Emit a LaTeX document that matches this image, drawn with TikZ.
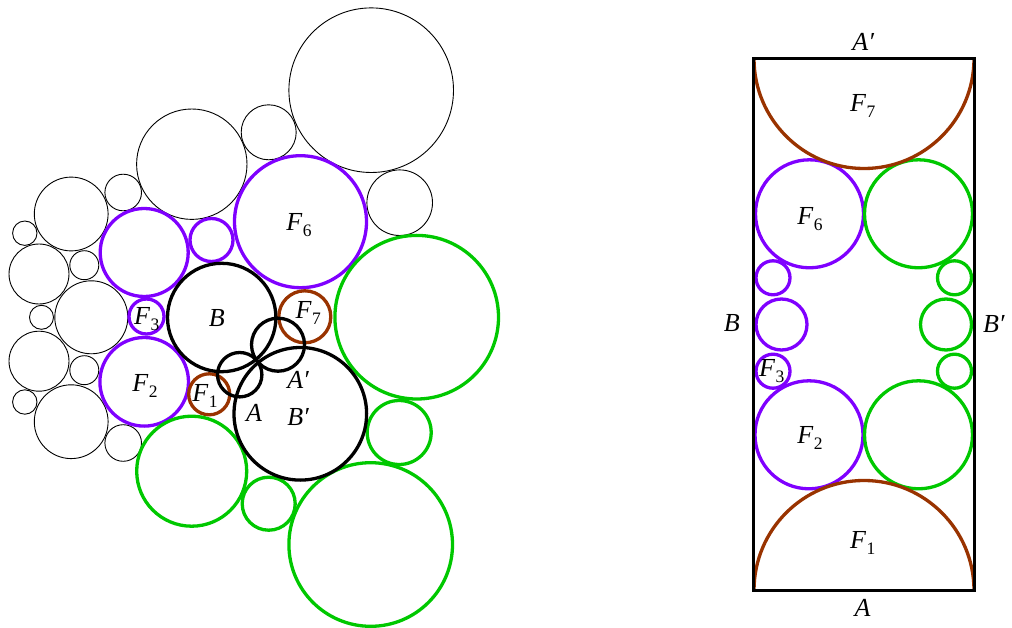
\documentclass[tikz,border=0pt]{standalone}
\usepackage{fontspec}
\setmainfont{Liberation Serif}
\definecolor{vio}{RGB}{127,0,255}
\definecolor{grn}{RGB}{0,200,0}
\definecolor{brn}{RGB}{153,51,0}
\newcommand{\lblF}[1]{\textit{F}\kern0.3pt\raisebox{-6pt}{\fontsize{17.5}{18}\selectfont #1}}
\begin{document}
\begin{tikzpicture}[x=1pt,y=-1pt,
  tcirc/.style={draw=black,line width=0.9pt},
  kcirc/.style={draw=black,line width=3.3pt},
  vcirc/.style={draw=vio,line width=3.3pt},
  gcirc/.style={draw=grn,line width=3.3pt},
  bcirc/.style={draw=brn,line width=3.3pt},
  lbl/.style={font=\fontsize{26}{30}\selectfont, inner sep=0pt}]
\useasboundingbox (0,0) rectangle (1012,628);
% ---------- left picture: thin black circles
\draw[tcirc] (371.2,90.2) circle[radius=82.3];
\draw[tcirc] (268.7,132.3) circle[radius=27.5];
\draw[tcirc] (191.8,164.2) circle[radius=55.2];
\draw[tcirc] (399.7,202.7) circle[radius=32.8];
\draw[tcirc] (71.2,214) circle[radius=36.9];
\draw[tcirc] (123.2,192.5) circle[radius=18.3];
\draw[tcirc] (24.8,233.2) circle[radius=12.2];
\draw[tcirc] (39,274) circle[radius=30];
\draw[tcirc] (84.3,265.2) circle[radius=14.5];
\draw[tcirc] (91.3,317.3) circle[radius=36.5];
\draw[tcirc] (41.5,317.3) circle[radius=12];
\draw[tcirc] (39,361.2) circle[radius=30];
\draw[tcirc] (84.3,370.2) circle[radius=14.5];
\draw[tcirc] (24.8,402) circle[radius=12.2];
\draw[tcirc] (71.2,421.7) circle[radius=36.9];
\draw[tcirc] (123.2,443) circle[radius=18.3];
% purple
\draw[vcirc] (300.5,221.7) circle[radius=66];
\draw[vcirc] (144.2,252.5) circle[radius=44];
\draw[vcirc] (211.5,240) circle[radius=21.5];
\draw[vcirc] (146.5,316.5) circle[radius=17.5];
\draw[vcirc] (144.2,381.8) circle[radius=44.3];
% brown
\draw[bcirc] (304.8,316.8) circle[radius=26];
\draw[bcirc] (209.2,394.3) circle[radius=20.5];
% green
\draw[gcirc] (416.7,317.2) circle[radius=81.8];
\draw[gcirc] (399.2,432.5) circle[radius=32];
\draw[gcirc] (191.7,471.2) circle[radius=55];
\draw[gcirc] (268.7,503.7) circle[radius=26.5];
\draw[gcirc] (370.7,544.5) circle[radius=81.8];
% black thick
\draw[kcirc] (221.7,317.5) circle[radius=54.2];
\draw[kcirc] (300.3,413.8) circle[radius=66.3];
\draw[kcirc] (239.7,374.7) circle[radius=22.2];
\draw[kcirc] (278,344.7) circle[radius=26.5];
% labels left
\node[lbl] (lF6) at (299,225) {\lblF{6}};
\node[lbl] (lB) at (216.7,318.3) {\textit{B}};
\node[lbl] (lF7) at (308.3,313) {\lblF{7}};
\node[lbl] (lF3) at (146.7,319) {\lblF{3}};
\node[lbl] (lF2) at (145,386) {\lblF{2}};
\node[lbl] (lF1) at (205,396) {\lblF{1}};
\node[lbl] (lAp) at (298.3,380) {\textit{A′}};
\node[lbl] (lA) at (254,412.7) {\textit{A}};
\node[lbl] (lBp) at (298.3,416.7) {\textit{B′}};
% ---------- right picture
\draw[vcirc] (809.5,213.8) circle[radius=54];
\draw[gcirc] (918.5,213.8) circle[radius=54];
\draw[vcirc] (809,434.8) circle[radius=54];
\draw[gcirc] (918.5,434.8) circle[radius=54];
\draw[vcirc] (773,277.8) circle[radius=17];
\draw[vcirc] (781.5,324.5) circle[radius=25.5];
\draw[vcirc] (773,371.2) circle[radius=17];
\draw[gcirc] (954.5,277.8) circle[radius=17];
\draw[gcirc] (946,324.5) circle[radius=25.5];
\draw[gcirc] (954.5,371.2) circle[radius=17];
\draw[draw=brn,line width=3.3pt] (974,58.5) arc[start angle=0,end angle=180,radius=110];
\draw[draw=brn,line width=3.3pt] (754,590.5) arc[start angle=180,end angle=360,radius=110];
\draw[draw=black,line width=3.3pt] (753.7,58.5) rectangle (974.3,590.5);
% labels right
\node[lbl] (rAp) at (863.3,41.7) {\textit{A′}};
\node[lbl] (rF7) at (862.7,106) {\lblF{7}};
\node[lbl] (rF6) at (810,219.3) {\lblF{6}};
\node[lbl] (rB) at (731.7,323.3) {\textit{B}};
\node[lbl] (rBp) at (994,324) {\textit{B′}};
\node[lbl] (rF3) at (771.7,371) {\lblF{3}};
\node[lbl] (rF2) at (810,437.7) {\lblF{2}};
\node[lbl] (rF1) at (862.7,542.7) {\lblF{1}};
\node[lbl] (rA) at (862.7,608.3) {\textit{A}};
\end{tikzpicture}
\end{document}
